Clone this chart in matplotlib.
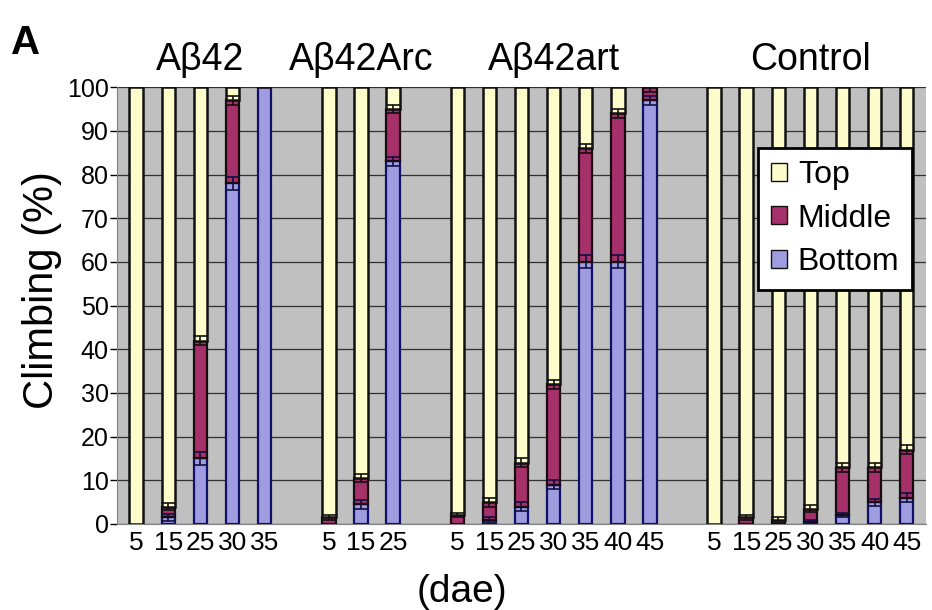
import numpy as np
import matplotlib.pyplot as plt
from matplotlib.patches import Patch

# data (percent of flies per zone)
groups = ["Aβ42", "Aβ42Arc", "Aβ42art", "Control"]
group_days = [["5", "15", "25", "30", "35"],
              ["5", "15", "25"],
              ["5", "15", "25", "30", "35", "40", "45"],
              ["5", "15", "25", "30", "35", "40", "45"]]

bottom = [0, 1.5, 15, 78, 100,
          0, 4.5, 83,
          0, 1, 4, 9, 60, 60, 97,
          0, 0, 0, 0.5, 2, 5, 6]
middle = [0, 2.5, 27, 19, 0,
          1.5, 6, 12,
          2, 4, 10, 23, 26, 34, 3,
          0, 1.5, 1, 3, 11, 8, 11]
top = [100, 96, 58, 3, 0,
       98.5, 89.5, 5,
       98, 95, 86, 68, 14, 6, 0,
       100, 98.5, 99, 96.5, 87, 87, 83]
bottom_err = [0, 0.8, 1.5, 1.5, 0,
              0, 1, 1,
              0, 0.5, 1, 1, 1.5, 1.5, 1,
              0, 0, 0, 0.3, 0.5, 0.8, 1]
middle_err = [0, 0.8, 1, 1, 0,
              0.5, 1, 1,
              0.5, 1, 1, 1, 1, 1, 1,
              0, 0.5, 0.5, 0.8, 1, 1, 1]

plt.rcParams['font.family'] = ['Liberation Sans', 'DejaVu Sans']

# x positions: one empty slot between groups
xpos, labels, centers = [], [], []
slot = 0
for g, days in enumerate(group_days):
    start = slot
    for d in days:
        xpos.append(slot)
        labels.append(d)
        slot += 1
    centers.append((start + slot - 1) / 2)
    slot += 1
xpos = np.array(xpos, dtype=float)
bottom = np.array(bottom)
middle = np.array(middle)
top = np.array(top)

fig = plt.figure(figsize=(9.32, 6.10), dpi=100)
ax = fig.add_axes([0.1255, 0.141, 0.868, 0.716])
ax.set_facecolor('#c0c0c0')

w = 0.42
ax.bar(xpos, bottom, w, color='#9f9ce0', edgecolor='#10106a', linewidth=1.6, zorder=3)
ax.bar(xpos, middle, w, bottom=bottom, color='#a5306a', edgecolor='#1a0a10', linewidth=1.6, zorder=3)
ax.bar(xpos, top, w, bottom=bottom + middle, color='#fdfdcc', edgecolor='#111111', linewidth=1.8, zorder=3)

be = np.array(bottom_err)
me = np.array(middle_err)
m1 = be > 0
ax.errorbar(xpos[m1], bottom[m1], yerr=be[m1], fmt='none', ecolor='#101040',
            elinewidth=1.2, capsize=5, capthick=1.2, zorder=4)
m2 = me > 0
ax.errorbar(xpos[m2], (bottom + middle)[m2], yerr=me[m2], fmt='none', ecolor='#111111',
            elinewidth=1.2, capsize=5, capthick=1.2, zorder=4)

ax.set_xlim(-0.6, slot - 1 - 0.4)
ax.set_ylim(0, 100)
ax.set_yticks(np.arange(0, 101, 10))
ax.yaxis.grid(True, color='#303030', linewidth=0.9)
ax.set_axisbelow(True)
ax.set_xticks(xpos)
ax.set_xticklabels(labels, fontsize=19)
ax.tick_params(axis='x', length=0, pad=5)
ax.tick_params(axis='y', length=5, width=1, labelsize=18, pad=1)
for s in ['top', 'right']:
    ax.spines[s].set_visible(False)
ax.spines['left'].set_color('#808080')
ax.spines['bottom'].set_color('#808080')

ax.set_ylabel("Climbing (%)", fontsize=30)
ax.yaxis.set_label_coords(-0.068, 0.535)
ax.set_xlabel("(dae)", fontsize=28)
ax.xaxis.set_label_coords(0.426, -0.115)

for c, name in zip(centers, groups):
    ax.text(c, 104, name, ha='center', va='baseline', fontsize=27)
fig.text(0.012, 0.93, "A", fontsize=29, fontweight='bold', va='center')

handles = [Patch(facecolor='#fdfdcc', edgecolor='#111111'),
           Patch(facecolor='#a5306a', edgecolor='#111111'),
           Patch(facecolor='#9f9ce0', edgecolor='#111111')]
leg = ax.legend(handles, ["Top", "Middle", "Bottom"], loc='upper right',
                bbox_to_anchor=(0.983, 0.862), fontsize=23, frameon=True,
                fancybox=False, edgecolor='black', framealpha=1,
                handlelength=0.5, handleheight=0.5, handletextpad=0.35,
                labelspacing=0.42, borderpad=0.4, borderaxespad=0)
leg.get_frame().set_linewidth(2)
leg.set_zorder(10)

fig.savefig("out.png", dpi=100)
